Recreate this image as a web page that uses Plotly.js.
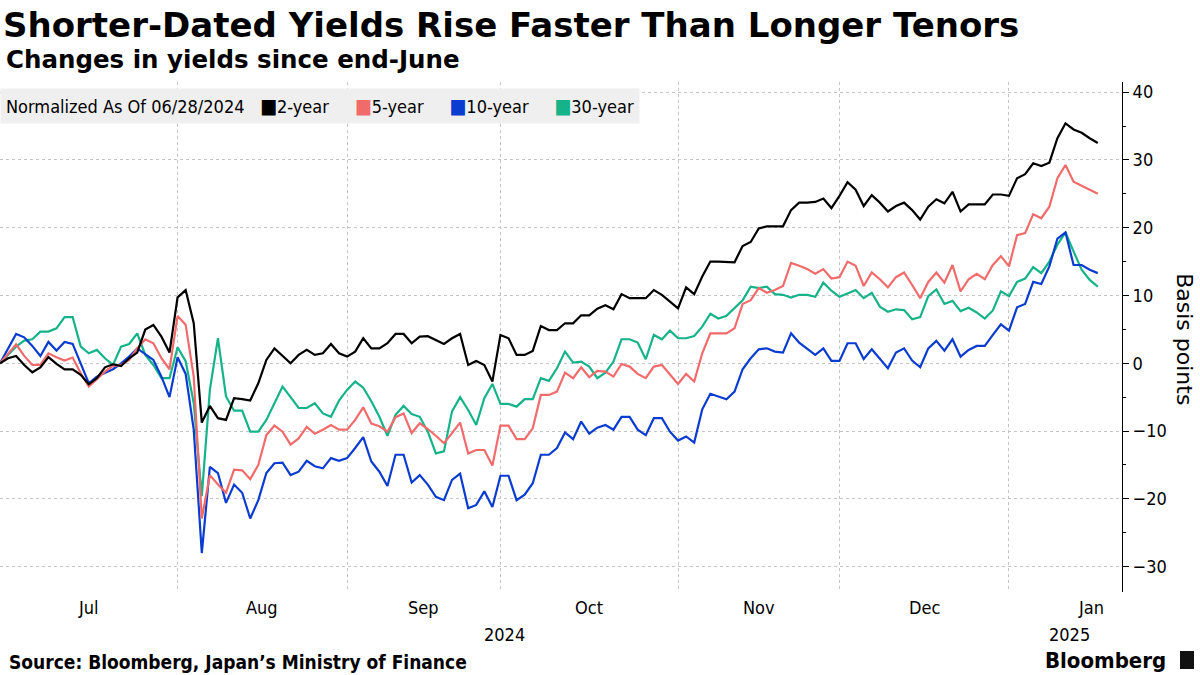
<!DOCTYPE html>
<html>
<head>
<meta charset="utf-8">
<script src="https://cdn.plot.ly/plotly-3.0.1.min.js"></script>
<style>
  html, body { margin: 0; padding: 0; background: #ffffff; }
  #chart { width: 1200px; height: 675px; }
</style>
</head>
<body>
<div id="chart"></div>
<script>
// Changes in yields since 06/28/2024 (basis points), one value per trading day
const twoYear = [0,0.74,1.08,-0.25,-1.33,-0.6,0.9,-0.1,-0.9,-0.9,-1.7,-3.1,-2.2,-0.6,-0.15,-0.4,0.74,1.57,4.97,5.65,3.93,1.57,9.73,10.8,5.9,-8.75,-6.3,-8.1,-8.36,-5.16,-5.3,-5.5,-2.95,0.49,2.2,1.08,0,1.23,1.97,1.23,1.47,2.85,1.47,0.98,1.72,3.69,2.2,2.2,2.95,4.33,4.33,2.95,3.93,4.0,3.44,2.85,3.69,4.33,-0.25,0.34,-0.25,-2.7,4.18,3.69,1.23,1.23,1.82,5.5,4.9,4.9,5.9,5.9,7.08,7.08,8.06,8.55,7.96,10.2,9.6,9.6,9.6,10.8,10.1,9.1,8.1,11.2,10.2,12.8,15.0,15.0,15.0,14.9,17.3,17.9,19.9,20.2,20.2,20.2,22.6,23.7,23.7,23.8,24.3,22.9,24.7,26.7,25.6,23.2,24.8,23.7,22.4,23.2,23.7,22.6,21.2,23.1,24.2,23.6,25.3,22.4,23.45,23.45,23.45,24.9,24.9,24.7,27.3,27.9,29.5,29.1,29.6,33.2,35.4,34.5,34.0,33.2,32.5];
const fiveYear = [0,1.38,2.8,1.08,-0.25,-0.25,1.47,0.9,0.39,0.84,-1.47,-3.44,-2.36,-1.23,-0.39,-0.25,0.49,2.2,3.54,2.95,0.74,-0.88,6.98,5.7,-1.97,-22.9,-16.5,-17.9,-19.1,-15.7,-15.8,-17.1,-15.0,-10.6,-9.2,-10.1,-12.0,-11.1,-9.4,-10.4,-9.8,-9.1,-9.8,-9.8,-8.36,-6.5,-8.9,-9.3,-10.1,-7.96,-7.4,-10.3,-8.85,-9.7,-10.7,-11.8,-10.3,-8.75,-13.3,-12.8,-12.8,-15.1,-9.2,-9.2,-11.2,-11.2,-9.6,-4.67,-4.67,-4.18,-1.38,-2.2,-0.59,-2.06,-1.13,-1.23,-1.97,-0.1,-0.49,-1.57,-2.2,-0.49,-0.25,-1.72,-3.05,-1.57,-2.7,1.47,4.42,4.4,4.4,5.16,8.75,9.3,11.1,10.4,10.8,11.4,14.8,14.4,13.9,13.2,13.9,12.5,12.7,15.0,14.4,11.4,13.4,12.4,11.2,12.7,13.4,11.55,9.6,12.0,13.4,11.9,14.5,10.6,12.4,13.2,12.4,14.5,15.8,14.3,18.9,19.2,22.0,21.4,23.1,27.3,29.25,26.8,26.2,25.5,25.0];
const tenYear = [0,2.16,4.33,3.83,2.56,1.08,3.15,1.87,3.15,2.85,0,-2.95,-1.97,-1.38,-0.88,0,0.98,2.2,1.38,0.49,-1.97,-5.0,0.88,-1.57,-9.8,-28.0,-15.3,-16.2,-20.6,-17.9,-19.1,-22.9,-20.2,-16.2,-14.75,-14.65,-16.5,-16.0,-14.4,-15.2,-15.5,-14.0,-14.4,-14.0,-12.5,-10.9,-14.5,-16.0,-18.1,-13.5,-13.5,-17.6,-16.5,-17.9,-19.7,-20.2,-17.2,-16.3,-21.4,-20.9,-18.9,-21.2,-16.6,-16.6,-20.2,-19.4,-17.7,-13.5,-13.5,-12.5,-10.2,-11.2,-8.6,-10.4,-9.5,-9.1,-9.8,-7.9,-7.9,-9.8,-10.6,-8.1,-8.1,-10.1,-11.4,-10.8,-11.7,-6.8,-4.5,-4.9,-5.3,-4.18,-0.88,0.74,2.06,2.2,1.72,1.57,4.42,3.05,2.2,1.23,2.2,0.34,0.34,2.95,2.95,0.64,2.06,0.74,-0.74,1.57,2.2,0.39,-0.59,2.2,3.3,1.87,3.54,0.98,1.97,2.56,2.56,4.18,5.75,4.82,8.26,8.75,12.0,11.7,14.3,18.4,19.3,14.5,14.5,13.8,13.3];
const thirtyYear = [0,1.23,2.46,3.34,3.54,4.67,4.67,5.16,6.8,6.8,2.46,1.47,1.97,0.74,-0.25,2.46,2.85,4.42,1.23,-0.25,-2.2,-2.2,2.36,0.3,-5.9,-19.6,-3.93,3.69,-4.9,-7.0,-7.0,-10.1,-10.1,-8.36,-5.8,-3.44,-5.0,-6.6,-6.6,-5.9,-7.4,-7.9,-5.5,-3.93,-2.7,-3.6,-5.6,-7.9,-10.7,-7.6,-6.3,-7.5,-7.9,-10.1,-13.3,-13.0,-7.1,-5.0,-6.9,-9.1,-5.16,-3.05,-6.0,-6.0,-6.4,-5.3,-5.3,-2.2,-2.6,-0.74,1.72,0.1,0.25,-0.49,-2.2,-1.38,0.25,3.54,3.54,3.05,0.59,4.18,3.54,4.82,3.69,3.69,4.03,5.4,7.3,6.6,7.0,8.1,9.3,11.3,11.1,11.3,10.2,10.1,9.7,10.1,10.1,9.8,11.9,10.7,9.8,10.3,10.8,9.6,10.4,8.36,7.6,7.96,7.85,6.5,6.8,9.9,10.9,8.75,9.2,7.7,8.2,7.5,6.6,7.8,10.6,9.9,12.0,12.5,14.2,13.3,15.0,17.5,19.3,16.5,13.8,12.3,11.3];

const seriesNames = ['2-year', '5-year', '10-year', '30-year'];
const seriesColors = ['#000000', '#f26b6b', '#0a3ccf', '#16b38a'];

// x axis: trading-day index (0 = 06/28/2024)
const tradingDay = twoYear.map((_, i) => i);
const monthStartDays = [0, 22, 43, 62, 84, 104, 125];
const monthLabels = ['Jul', 'Aug', 'Sep', 'Oct', 'Nov', 'Dec', 'Jan'];
const monthLabelDays = [11, 32.5, 52.5, 73, 94, 114.5, 135.2];
const yearLabels = ['2024', '2025'];
const yearLabelDays = [62.5, 132.5];
const yTicks = [-30, -20, -10, 0, 10, 20, 30, 40];

const FONT = "'DejaVu Sans Condensed', 'Liberation Sans Narrow', 'DejaVu Sans', sans-serif";
const BOLD = "'DejaVu Sans', sans-serif";

const allSeries = [twoYear, fiveYear, tenYear, thirtyYear];
const traces = allSeries.map((vals, k) => ({
  x: tradingDay,
  y: vals,
  type: 'scatter',
  mode: 'lines',
  name: seriesNames[k],
  line: { color: seriesColors[k], width: 2.2 },
  showlegend: false,
  hoverinfo: 'skip'
}));
// draw order: 30y, 10y, 5y, 2y on top
traces.reverse();

// paper y for a pixel row (plot area spans rows 82..592)
const py = (row) => (592 - row) / 510;

const annotations = [];
monthLabels.forEach((m, i) => annotations.push({
  text: m, x: monthLabelDays[i], xref: 'x', y: py(607), yref: 'paper',
  xanchor: 'center', yanchor: 'middle', showarrow: false,
  font: { family: FONT, size: 18, color: '#000' }
}));
yearLabels.forEach((t, i) => annotations.push({
  text: t, x: yearLabelDays[i], xref: 'x', y: py(634), yref: 'paper',
  xanchor: 'center', yanchor: 'middle', showarrow: false,
  font: { family: FONT, size: 18, color: '#000' }
}));
const sp = '\u00a0';
let legendText = 'Normalized As Of 06/28/2024' + sp.repeat(3);
seriesNames.forEach((n, k) => {
  legendText += "<span style='color:" + seriesColors[k] + ";font-size:20px'>\u25A0</span>" + n + (k < 3 ? sp.repeat(5) : '');
});
annotations.push({
  text: legendText, x: 0, xref: 'paper', y: py(88), yref: 'paper',
  xanchor: 'left', yanchor: 'top', showarrow: false, align: 'left',
  bgcolor: '#efefef', borderpad: 5,
  font: { family: FONT, size: 18, color: '#000' }
});
annotations.push({
  text: 'Basis points', x: 1.056, xref: 'paper', y: py(339), yref: 'paper',
  xanchor: 'center', yanchor: 'middle', showarrow: false, textangle: 90,
  font: { family: BOLD, size: 22, color: '#000' }
});
annotations.push({
  text: '<b>Source: Bloomberg, Japan\u2019s Ministry of Finance</b>', x: 7 / 1122, xref: 'paper', y: py(662), yref: 'paper',
  xanchor: 'left', yanchor: 'middle', showarrow: false,
  font: { family: FONT, size: 19, color: '#000' }
});
annotations.push({
  text: '<b>Changes in yields since end-June</b>', xref: 'paper', yref: 'paper',
  x: 4 / 1122, y: py(60), xanchor: 'left', yanchor: 'middle', showarrow: false,
  font: { family: BOLD, size: 24.5, color: '#000' }
});
annotations.push({
  text: '<b>Bloomberg</b>', xref: 'paper', yref: 'paper',
  x: 1168 / 1122, y: py(660), xanchor: 'right', yanchor: 'middle', showarrow: false,
  font: { family: FONT, size: 22, color: '#000' }
});

const layout = {
  width: 1200, height: 675,
  margin: { l: 0, r: 78, t: 82, b: 83, pad: 0 },
  paper_bgcolor: '#ffffff', plot_bgcolor: '#ffffff',
  title: {
    text: '<b>Shorter-Dated Yields Rise Faster Than Longer Tenors</b>',
    xref: 'container', yref: 'container', x: 3 / 1200, xanchor: 'left',
    y: 1 - 25 / 675, yanchor: 'middle',
    font: { family: BOLD, size: 34, color: '#000' }
  },
  xaxis: {
    range: [0, 139], tickvals: monthStartDays, showticklabels: false, ticks: '',
    showgrid: true, gridcolor: '#c4c4c4', griddash: 'dot', gridwidth: 1,
    zeroline: false, showline: false, fixedrange: true
  },
  yaxis: {
    side: 'right', range: [-33.75, 41.5], tickvals: yTicks,
    ticks: 'outside', ticklen: 6, tickcolor: '#000', tickwidth: 1,
    showline: true, linecolor: '#000', linewidth: 1,
    showgrid: true, gridcolor: '#c4c4c4', griddash: 'dot', gridwidth: 1,
    zeroline: false, tickfont: { family: FONT, size: 18, color: '#000' },
    minor: { tick0: 0, dtick: 5, ticks: 'outside', ticklen: 3, tickcolor: '#000', showgrid: false },
    fixedrange: true
  },
  annotations: annotations,
  shapes: [
    { type: 'rect', xref: 'paper', yref: 'paper', x0: 1180 / 1122, x1: 1194 / 1122,
      y0: py(669), y1: py(651), fillcolor: '#111', line: { width: 0 } }
  ],
  showlegend: false
};

Plotly.newPlot('chart', traces, layout, { staticPlot: true, displayModeBar: false });
</script>
</body>
</html>
